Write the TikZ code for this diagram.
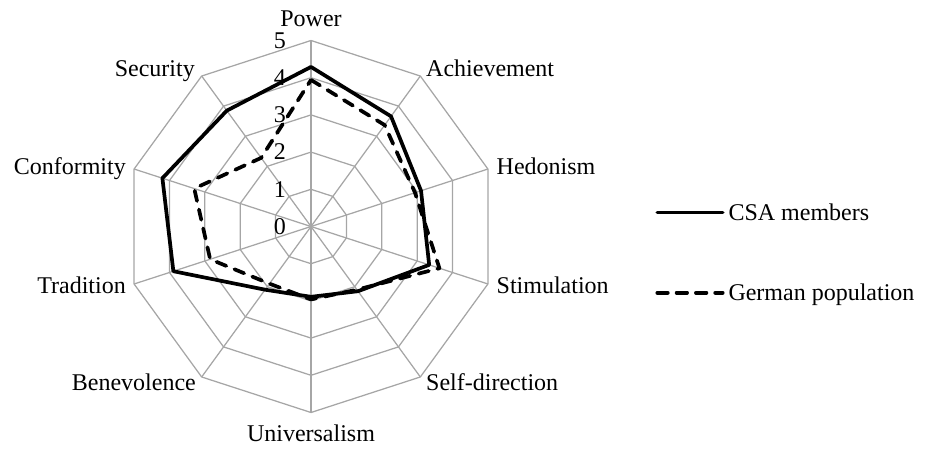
\documentclass[tikz,border=0pt]{standalone}
\usepackage{fontspec}
\setmainfont{Liberation Serif}
\begin{document}
\begin{tikzpicture}[x=1pt,y=1pt,
  gridline/.style={draw=gray!70, line width=1.25pt},
  csaline/.style={draw=black, line width=3.7pt, line join=round},
  gerline/.style={draw=black, line width=3.7pt, line join=round, line cap=round, dash pattern=on 10.5pt off 8.8pt},
  lbl/.style={inner sep=0pt, font=\fontsize{24}{28}\selectfont},
  ticklbl/.style={inner sep=0pt, anchor=base east, font=\fontsize{24}{28}\selectfont}
]
\useasboundingbox (-311,-223.5) rectangle (622,226.5);
\def\U{37.2}
% grid rings
\foreach \i in {1,...,5} {
  \draw[gridline] (90:\i*\U) \foreach \k in {1,...,9} { -- (90-36*\k:\i*\U) } -- cycle;
}
% spokes
\coordinate (O) at (0,0);
\foreach \k in {0,...,9} \coordinate (v\k) at (90-36*\k:5*\U);
\foreach \k in {0,...,9} \draw[gridline] (O) -- (v\k);
% tick labels
\foreach \i in {0,...,5} \node[ticklbl] (t\i) at (-25,\i*\U-7.8) {\i};
% category labels
\node[lbl, anchor=base] (power) at (0,199.8) {Power};
\node[lbl, anchor=base west] (achievement) at (115,149.8) {Achievement};
\node[lbl, anchor=base west] (hedonism) at (185.5,52.5) {Hedonism};
\node[lbl, anchor=base west] (stimulation) at (185.5,-66.8) {Stimulation};
\node[lbl, anchor=base west] (selfdirection) at (115,-163.8) {Self-direction};
\node[lbl, anchor=base] (universalism) at (0,-215.2) {Universalism};
\node[lbl, anchor=base east] (benevolence) at (-115,-163.8) {Benevolence};
\node[lbl, anchor=base east] (tradition) at (-185,-66.8) {Tradition};
\node[lbl, anchor=base east] (conformity) at (-185,52.5) {Conformity};
\node[lbl, anchor=base east] (security) at (-116,149.8) {Security};
% data: CSA members
\foreach \v [count=\n from 0] in {4.29,3.66,3.11,3.34,2.15,1.89,2.1,3.89,4.2,3.85}
  \coordinate (c\n) at (90-36*\n:\v*\U);
\draw[csaline] (c0) -- (c1) -- (c2) -- (c3) -- (c4) -- (c5) -- (c6) -- (c7) -- (c8) -- (c9) -- cycle;
% data: German population
\foreach \v [count=\n from 0] in {3.94,3.37,2.94,3.63,2.1,1.96,1.9,2.85,3.3,2.28}
  \coordinate (g\n) at (90-36*\n:\v*\U);
\draw[gerline] (g0) -- (g1) -- (g2) -- (g3) -- (g4) -- (g5) -- (g6) -- (g7) -- (g8) -- (g9) -- cycle;
% legend
\coordinate (l1a) at (346.3,14);
\coordinate (l1b) at (411.7,14);
\draw[csaline, line cap=round] (l1a) -- (l1b);
\node[lbl, anchor=base west] (leg1) at (417.3,6.5) {CSA members};
\coordinate (l2a) at (346.3,-66.2);
\coordinate (l2b) at (411.7,-66.2);
\draw[gerline] (l2a) -- (l2b);
\node[lbl, anchor=base west] (leg2) at (417.3,-73.5) {German population};
\end{tikzpicture}
\end{document}
